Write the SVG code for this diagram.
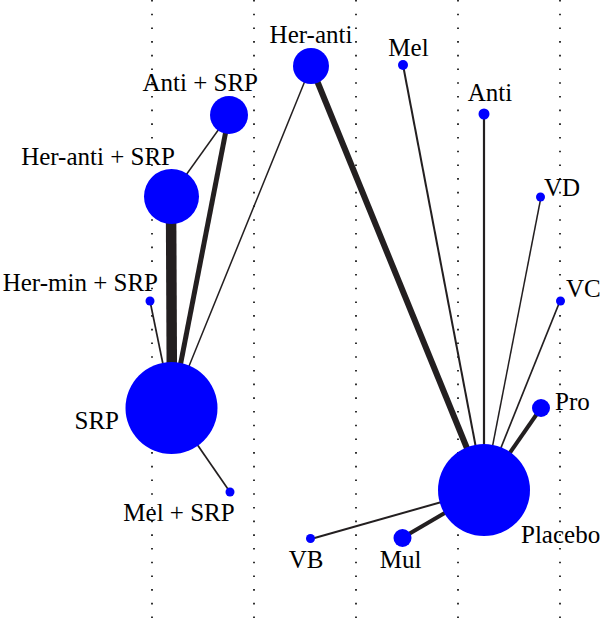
<svg xmlns="http://www.w3.org/2000/svg" width="600" height="627" viewBox="0 0 600 627">
<style>
.grid{stroke:#000;stroke-width:1.6;stroke-dasharray:1.6 12.1;fill:none}
.e{stroke:#231f20;fill:none;stroke-linecap:butt}
.n{fill:#0000ff}
text{font-family:"Liberation Serif","Times New Roman",serif;font-size:25px;fill:#000}
</style>
<rect width="600" height="627" fill="#fff"/>
<g id="grid">
<line class="grid" x1="152" y1="0" x2="152" y2="627"/>
<line class="grid" x1="254" y1="0" x2="254" y2="627"/>
<line class="grid" x1="356" y1="0" x2="356" y2="627"/>
<line class="grid" x1="458" y1="0" x2="458" y2="627"/>
<line class="grid" x1="560" y1="0" x2="560" y2="627"/>
</g>
<g id="connectors">
<line class="e" x1="171" y1="196" x2="172" y2="408" stroke-width="10.5"/>
<line class="e" x1="229" y1="115" x2="172" y2="408" stroke-width="5"/>
<line class="e" x1="229" y1="115" x2="171" y2="196" stroke-width="1.5"/>
<line class="e" x1="311" y1="66" x2="172" y2="408" stroke-width="1.5"/>
<line class="e" x1="150" y1="301" x2="172" y2="408" stroke-width="1.7"/>
<line class="e" x1="230" y1="492" x2="172" y2="408" stroke-width="1.7"/>
<line class="e" x1="311" y1="66" x2="484" y2="490" stroke-width="6"/>
<line class="e" x1="403" y1="65" x2="484" y2="490" stroke-width="2"/>
<line class="e" x1="484" y1="114" x2="484" y2="490" stroke-width="2.2"/>
<line class="e" x1="541" y1="197" x2="484" y2="490" stroke-width="1.5"/>
<line class="e" x1="560" y1="301" x2="484" y2="490" stroke-width="1.7"/>
<line class="e" x1="541" y1="408" x2="484" y2="490" stroke-width="4"/>
<line class="e" x1="402" y1="538" x2="484" y2="490" stroke-width="4"/>
<line class="e" x1="311" y1="539" x2="484" y2="490" stroke-width="2"/>
</g>
<g id="n-her-anti"><circle class="n" cx="311" cy="66" r="18"/><text x="311" y="43" text-anchor="middle">Her-anti</text></g>
<g id="n-anti-srp"><circle class="n" cx="229" cy="115" r="19"/><text x="258" y="91" text-anchor="end">Anti + SRP</text></g>
<g id="n-her-anti-srp"><circle class="n" cx="171.5" cy="196.5" r="27.5"/><text x="175" y="165" text-anchor="end">Her-anti + SRP</text></g>
<g id="n-her-min-srp"><circle class="n" cx="150" cy="301" r="4.5"/><text x="158" y="291" text-anchor="end">Her-min + SRP</text></g>
<g id="n-srp"><circle class="n" cx="171.5" cy="408" r="46"/><text x="119" y="429" text-anchor="end">SRP</text></g>
<g id="n-mel-srp"><circle class="n" cx="230" cy="492" r="4.5"/><text x="179" y="521" text-anchor="middle">Mel + SRP</text></g>
<g id="n-mel"><circle class="n" cx="403" cy="65" r="5"/><text x="408.5" y="56" text-anchor="middle">Mel</text></g>
<g id="n-anti"><circle class="n" cx="484" cy="114" r="5.5"/><text x="490" y="101" text-anchor="middle">Anti</text></g>
<g id="n-vd"><circle class="n" cx="540.5" cy="197" r="4.5"/><text x="544" y="196" text-anchor="start">VD</text></g>
<g id="n-vc"><circle class="n" cx="560.5" cy="301" r="4.5"/><text x="566" y="297" text-anchor="start">VC</text></g>
<g id="n-pro"><circle class="n" cx="541" cy="408" r="9"/><text x="555" y="410" text-anchor="start">Pro</text></g>
<g id="n-placebo"><circle class="n" cx="484" cy="490" r="46"/><text x="521" y="543" text-anchor="start">Placebo</text></g>
<g id="n-mul"><circle class="n" cx="402.5" cy="538" r="9"/><text x="400.5" y="568" text-anchor="middle">Mul</text></g>
<g id="n-vb"><circle class="n" cx="310.5" cy="538.5" r="4.5"/><text x="306" y="568" text-anchor="middle">VB</text></g>
</svg>
